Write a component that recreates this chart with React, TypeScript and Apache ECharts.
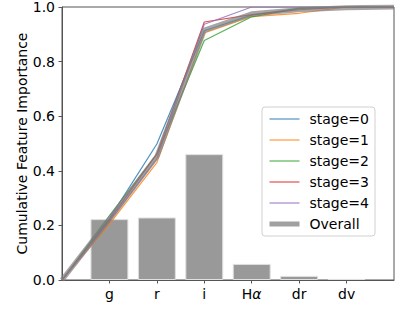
import React, { useEffect, useRef } from "react";
import * as echarts from "echarts";

const categories = ["", "g", "r", "i", "Hα", "dr", "dv", ""];
const barValues: (number | string)[] = ["-", 0.223, 0.229, 0.461, 0.059, 0.015, 0.004, "-"];
const stage0 = [0, 0.225, 0.498, 0.913, 0.970, 0.995, 1.0, 1.0];
const stage1 = [0, 0.205, 0.430, 0.905, 0.965, 0.977, 1.0, 1.0];
const stage2 = [0, 0.235, 0.460, 0.877, 0.964, 0.995, 1.0, 1.0];
const stage3 = [0, 0.220, 0.462, 0.945, 0.972, 0.990, 1.0, 1.0];
const stage4 = [0, 0.215, 0.445, 0.937, 1.0, 1.0, 1.0, 1.0];
const overall = [0, 0.223, 0.452, 0.915, 0.975, 0.990, 0.997, 1.0];
const stageNames = ["stage=0", "stage=1", "stage=2", "stage=3", "stage=4"];
const stageColors = ["#1f77b4", "#ff7f0e", "#2ca02c", "#d62728", "#9467bd"];
const yTicks = [0, 0.2, 0.4, 0.6, 0.8, 1.0];

const FONT = "'DejaVu Sans', sans-serif";

export default function App() {
  const ref = useRef<HTMLDivElement>(null);
  useEffect(() => {
    if (!ref.current) return;
    const chart = echarts.init(ref.current, undefined, { renderer: "svg" });
    const stages = [stage0, stage1, stage2, stage3, stage4];
    const lineSeries = stages.map((d, i) => ({
      name: stageNames[i],
      type: "line",
      data: d,
      symbol: "none",
      color: stageColors[i],
      lineStyle: { width: 1.2, color: stageColors[i], opacity: 0.8 },
      z: 3,
    }));
    chart.setOption({
      animation: false,
      textStyle: { fontFamily: FONT },
      grid: {
        left: 62,
        right: 21,
        top: 5,
        bottom: 31,
        show: true,
        borderColor: "#555",
        borderWidth: 1,
        backgroundColor: "transparent",
      },
      legend: {
        data: [
          ...stageNames.map((n, i) => ({ name: n, lineStyle: { width: 1.2, color: stageColors[i], opacity: 0.8 } })),
          { name: "Overall", lineStyle: { width: 5, color: "#808080", opacity: 0.75 } },
        ],
        orient: "vertical",
        left: 262,
        top: 107,
        padding: [5, 6, 5, 5],
        itemWidth: 30,
        itemHeight: 14,
        itemGap: 7,
        backgroundColor: "rgba(255,255,255,0.85)",
        borderColor: "#d0d0d0",
        borderWidth: 1,
        borderRadius: 3,
        itemStyle: { opacity: 0 },
        textStyle: {
          fontFamily: FONT,
          fontSize: 14,
          color: "#000",
          lineHeight: 14,
          padding: [0, 0, 0, 5],
        },
      },
      xAxis: {
        type: "category",
        data: categories,
        boundaryGap: false,
        axisLine: { show: true, lineStyle: { color: "#555", width: 1 } },
        axisTick: {
          show: true,
          length: 3.5,
          interval: (i: number) => i > 0 && i < categories.length - 1,
          lineStyle: { color: "#555" },
        },
        axisLabel: {
          interval: 0,
          margin: 7,
          fontFamily: FONT,
          fontSize: 14,
          color: "#000",
          formatter: (v: string) => (v === "Hα" ? "H{it|α}" : v),
          rich: { it: { fontStyle: "italic", fontFamily: FONT, fontSize: 14, color: "#000" } },
        },
        splitLine: { show: false },
      },
      yAxis: {
        type: "value",
        min: 0,
        max: 1,
        interval: 0.2,
        name: "Cumulative Feature Importance",
        nameLocation: "middle",
        nameGap: 33,
        nameMoveOverlap: false,
        nameTextStyle: { fontFamily: FONT, fontSize: 14, color: "#000" },
        axisLine: { show: true, lineStyle: { color: "#555", width: 1 } },
        axisTick: { show: true, length: 3.5, lineStyle: { color: "#555" } },
        axisLabel: {
          margin: 7,
          fontFamily: FONT,
          fontSize: 14,
          color: "#000",
          formatter: (v: number) => (yTicks.some((t) => Math.abs(t - v) < 1e-9) ? v.toFixed(1) : ""),
        },
        splitLine: { show: false },
      },
      series: [
        {
          name: "bars",
          type: "bar",
          data: barValues,
          barWidth: "80%",
          itemStyle: { color: "#999999", borderColor: "#e0e0e0", borderWidth: 1 },
          z: 1,
        },
        ...lineSeries,
        {
          name: "Overall",
          type: "line",
          data: overall,
          symbol: "none",
          color: "#8c8c8c",
          lineStyle: { width: 5, color: "#808080", opacity: 0.7 },
          z: 4,
        },
      ],
    });
    return () => chart.dispose();
  }, []);
  return (
    <div
      ref={ref}
      style={{ position: "fixed", left: 0, top: 0, width: 415, height: 311, background: "#fff" }}
    />
  );
}
